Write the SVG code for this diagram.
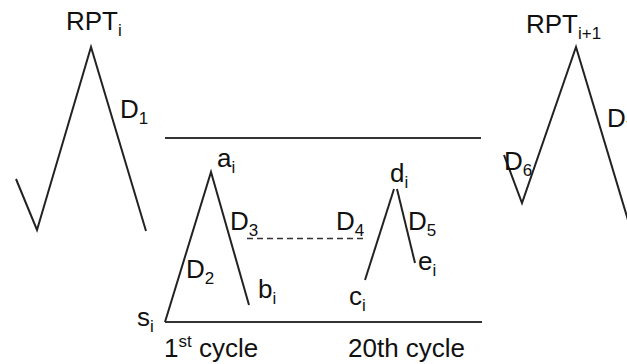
<svg xmlns="http://www.w3.org/2000/svg" width="627" height="364" viewBox="0 0 627 364">
<style>
.ln{fill:none;stroke:#222;stroke-width:2;stroke-linejoin:miter}
.hl{fill:none;stroke:#333;stroke-width:2}
.ds{fill:none;stroke:#333;stroke-width:1.6;stroke-dasharray:6 4}
text{font-family:"Liberation Sans",Arial,sans-serif;fill:#111;font-size:26px}
.sub{font-size:17px}
</style>
<rect width="627" height="364" fill="#fff"/>
<g id="connectors">
<line class="hl" x1="165" y1="138" x2="481" y2="138"/>
<line class="hl" x1="165" y1="322" x2="482" y2="322"/>
<line class="ds" x1="247" y1="238.5" x2="363" y2="238.5"/>
</g>
<g id="rpt-i">
<polyline class="ln" points="16,179 37,230 91,47 146,231"/>
<text x="66" y="30">RPT<tspan class="sub" dy="6">i</tspan></text>
<text x="120" y="118">D<tspan class="sub" dy="6">1</tspan></text>
</g>
<g id="cycle-1">
<polyline class="ln" points="165,322 211,172 249,305"/>
<text x="217" y="167">a<tspan class="sub" dy="6">i</tspan></text>
<text x="186" y="278">D<tspan class="sub" dy="6">2</tspan></text>
<text x="230" y="230">D<tspan class="sub" dy="6">3</tspan></text>
<text x="258" y="298">b<tspan class="sub" dy="6">i</tspan></text>
<text x="137" y="326">s<tspan class="sub" dy="6">i</tspan></text>
<text x="164" y="357">1<tspan class="sub" dy="-10">st</tspan><tspan dy="10"> cycle</tspan></text>
</g>
<g id="cycle-20">
<polyline class="ln" points="365,280 394,189"/>
<polyline class="ln" points="397,189 415,263"/>
<text x="336" y="230">D<tspan class="sub" dy="6">4</tspan></text>
<text x="390" y="182">d<tspan class="sub" dy="6">i</tspan></text>
<text x="408" y="230">D<tspan class="sub" dy="6">5</tspan></text>
<text x="418" y="270">e<tspan class="sub" dy="6">i</tspan></text>
<text x="349" y="305">c<tspan class="sub" dy="6">i</tspan></text>
<text x="348" y="357">20th cycle</text>
</g>
<g id="rpt-i1">
<polyline class="ln" points="504,155 522,203 576,47 631,230"/>
<text x="526" y="33">RPT<tspan class="sub" dy="6">i+1</tspan></text>
<text x="504" y="170">D<tspan class="sub" dy="6">6</tspan></text>
<text x="607" y="127">D<tspan class="sub" dy="6">7</tspan></text>
</g>
</svg>
